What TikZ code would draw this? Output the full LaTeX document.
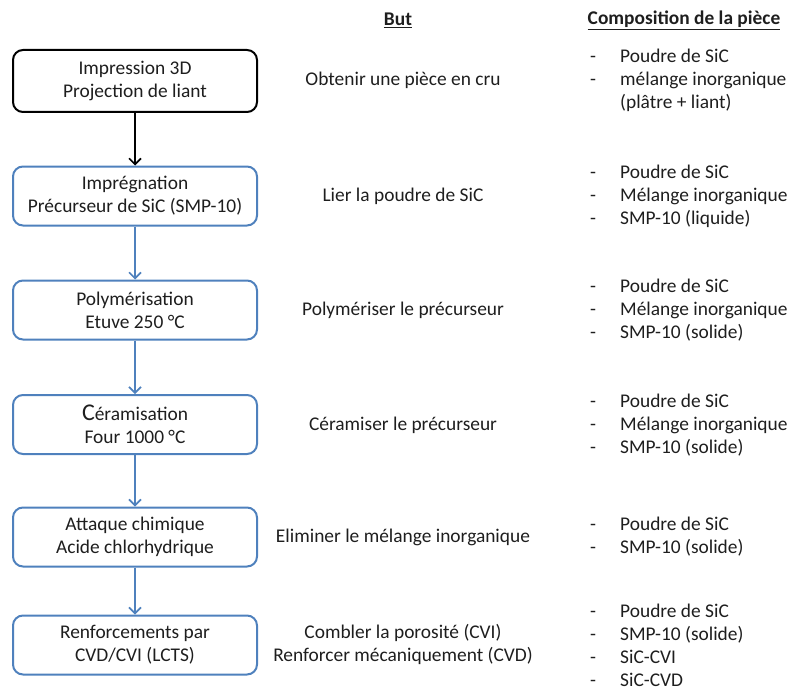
\documentclass[tikz,border=0pt]{standalone}
\usepackage{fontspec}
\setmainfont{Carlito}
\usetikzlibrary{arrows.meta}
\definecolor{boxblue}{RGB}{79,129,189}
\definecolor{txt}{RGB}{30,30,30}
\tikzset{
  x=1pt, y=-1pt,
  every node/.style={text=txt, font=\fontsize{19.4}{23}\selectfont, inner sep=0pt},
  stepbox/.style={draw=boxblue, line width=2pt, rounded corners=10pt, minimum width=244pt, minimum height=59pt, align=center, fill=white},
  firstbox/.style={stepbox, draw=black},
  flow/.style={draw=boxblue, line width=1.6pt, -{Straight Barb[length=6pt,width=12pt,line width=1.6pt]}},
  flowfirst/.style={flow, draw=black},
  goal/.style={align=center},
  comp/.style={align=left, anchor=west},
  head/.style={font=\fontsize{19.4}{23}\selectfont\bfseries}
}
\newcommand{\itm}{\makebox[30pt][l]{-}}
\newcommand{\noitm}{\makebox[30pt][l]{}}
\begin{document}
\begin{tikzpicture}
\useasboundingbox (0,0) rectangle (787,690);
% headers
\node[head] (hbut) at (398,20) {\underline{But}};
\node[head] (hcomp) at (684,20) {\underline{Composition de la pièce}};
% boxes
\node[firstbox, minimum height=62pt] (b1) at (135,81) {Impression 3D\\Projection de liant};
\node[stepbox] (b2) at (135,196) {Imprégnation\\Précurseur de SiC (SMP-10)};
\node[stepbox] (b3) at (135,310) {Polymérisation\\Etuve 250 °C};
\node[stepbox] (b4) at (135,424.5) {{\fontsize{24}{23}\selectfont C}éramisation\\Four 1000 °C};
\node[stepbox] (b5) at (135,537) {Attaque chimique\\Acide chlorhydrique};
\node[stepbox] (b6) at (135,645) {Renforcements par\\CVD/CVI (LCTS)};
% arrows
\draw[flowfirst] (b1) -- (b2);
\draw[flow] (b2) -- (b3);
\draw[flow] (b3) -- (b4);
\draw[flow] (b4) -- (b5);
\draw[flow] (b5) -- (b6);
% goals
\node[goal] (g1) at (403,80) {Obtenir une pièce en cru};
\node[goal] (g2) at (403,196) {Lier la poudre de SiC};
\node[goal] (g3) at (403,310) {Polymériser le précurseur};
\node[goal] (g4) at (403,425) {Céramiser le précurseur};
\node[goal] (g5) at (403,537) {Eliminer le mélange inorganique};
\node[goal] (g6) at (403,644) {Combler la porosité (CVI)\\Renforcer mécaniquement (CVD)};
% compositions
\node[comp] (c1) at (590,80) {\itm Poudre de SiC\\\itm mélange inorganique\\\noitm(plâtre + liant)};
\node[comp] (c2) at (590,196) {\itm Poudre de SiC\\\itm Mélange inorganique\\\itm SMP-10 (liquide)};
\node[comp] (c3) at (590,310) {\itm Poudre de SiC\\\itm Mélange inorganique\\\itm SMP-10 (solide)};
\node[comp] (c4) at (590,425) {\itm Poudre de SiC\\\itm Mélange inorganique\\\itm SMP-10 (solide)};
\node[comp] (c5) at (590,537) {\itm Poudre de SiC\\\itm SMP-10 (solide)};
\node[comp] (c6) at (590,645) {\itm Poudre de SiC\\\itm SMP-10 (solide)\\\itm SiC-CVI\\\itm SiC-CVD};
\end{tikzpicture}
\end{document}
